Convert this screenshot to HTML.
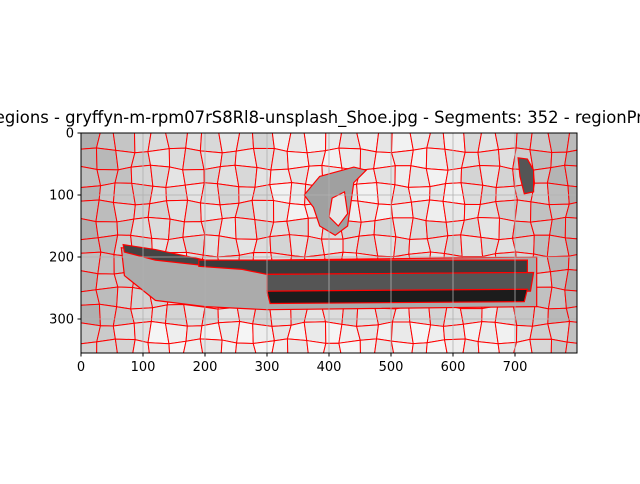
<!DOCTYPE html>
<html><head><meta charset="utf-8"><style>
body{margin:0;background:#fff;width:640px;height:480px;overflow:hidden;font-family:"DejaVu Sans","Liberation Sans",sans-serif}
</style></head><body>
<svg id="fig" width="640" height="480" xmlns="http://www.w3.org/2000/svg" font-family="DejaVu Sans, Liberation Sans, sans-serif">
<text x="330" y="123" text-anchor="middle" font-size="16.4" fill="#000">regions - gryffyn-m-rpm07rS8Rl8-unsplash_Shoe.jpg - Segments: 352 - regionProps</text>
<clipPath id="clip"><rect x="81" y="133" width="496" height="220"/></clipPath>
<g id="img" clip-path="url(#clip)"></g>
<g id="axes"></g>
</svg>
<script>
const xTicks=[0,100,200,300,400,500,600,700];
const yTicks=[0,100,200,300];
const imgW=800, imgH=355;
const X0=81,Y0=133,S=0.62;
const sx=v=>X0+v*S, sy=v=>Y0+v*S;
const NS='http://www.w3.org/2000/svg';
const img=document.getElementById('img'), axes=document.getElementById('axes');
function el(t,a,p){const e=document.createElementNS(NS,t);for(const k in a)e.setAttribute(k,a[k]);p.appendChild(e);return e;}
el('rect',{x:X0,y:Y0,width:496,height:220,fill:'#d0d0d0'},img);
const cw=28,ch=28;
const nc=Math.ceil(imgW/cw)+1, nr=Math.ceil(imgH/ch)+1;
const V=[];
for(let r=0;r<=nr;r++){V.push([]);for(let c=0;c<=nc;c++){
  const jx=(c===0?0:Math.sin(r*1.7+c*2.3)*4), jy=(r===0?0:Math.cos(r*2.1+c*1.3)*4);
  V[r].push([c*cw+jx,r*ch+jy]);}}
for(let r=0;r<nr;r++){for(let c=0;c<nc;c++){
  const cx=c*cw+cw/2, cy=r*ch+ch/2;
  const edge=Math.min(1,Math.min(cx,imgW-cx)/130);
  let g=178+edge*42+(cy<140&&cx>300&&cx<620?14:0)+(cy>300?18:0)+(((r*7+c*3)%5)-2)*4;
  g=Math.max(150,Math.min(245,Math.round(g)));
  const pts=[V[r][c],V[r][c+1],V[r+1][c+1],V[r+1][c]].map(q=>sx(q[0])+','+sy(q[1])).join(' ');
  const e=el('polygon',{points:pts,fill:`rgb(${g},${g},${g})`,stroke:'#ff0000','stroke-width':1},img);
  
  
}}
const shapes=[
 {n:'shoe-midsole',f:'#ababab',p:[[65,185],[200,205],[300,205],[735,200],[735,280],[300,285],[200,280],[120,270],[70,230]]},
 {n:'toe-streak',f:'#444',p:[[68,180],[120,188],[200,205],[210,215],[120,205],[70,192]]},
 {n:'upper-dark-strip',f:'#3a3a3a',p:[[190,205],[720,205],[720,225],[300,228],[260,220],[190,215]]},
 {n:'mid-gray-band',f:'#555',p:[[300,228],[730,225],[725,255],[300,258]]},
 {n:'black-strip',f:'#1c1c1c',p:[[300,255],[720,252],[715,272],[305,275]]},
 {n:'heel-loop',f:'#555',p:[[705,40],[720,42],[730,60],[730,95],[715,98],[708,70]]},
 {n:'logo-loop',f:'#a0a0a0',p:[[385,70],[440,55],[460,60],[440,80],[430,150],[410,165],[385,150],[375,120],[360,100]]},
 {n:'logo-inner',f:'#e8e8e8',p:[[405,105],[425,95],[430,130],[415,150],[400,135]]}
];
shapes.forEach(s=>{
  const e=el('polygon',{points:s.p.map(q=>sx(q[0])+','+sy(q[1])).join(' '),fill:s.f,stroke:'#ff0000','stroke-width':1.2},img);
  
  
});
xTicks.forEach(t=>{const e=el('line',{x1:sx(t),x2:sx(t),y1:Y0,y2:Y0+220,stroke:'#b0b0b0','stroke-width':0.8},img);
 });
yTicks.forEach(t=>{const e=el('line',{x1:X0,x2:X0+496,y1:sy(t),y2:sy(t),stroke:'#b0b0b0','stroke-width':0.8},img);
 });
const fr=el('rect',{x:X0,y:Y0,width:496,height:220,fill:'none',stroke:'#000','stroke-width':1},axes);

xTicks.forEach(t=>{
 el('line',{x1:sx(t),x2:sx(t),y1:Y0+220,y2:Y0+223.5,stroke:'#000'},axes);
 const tx=el('text',{x:sx(t),y:Y0+238,'text-anchor':'middle','font-size':13},axes);tx.textContent=t;
 
});
yTicks.forEach(t=>{
 el('line',{x1:X0-3.5,x2:X0,y1:sy(t),y2:sy(t),stroke:'#000'},axes);
 const tx=el('text',{x:X0-7,y:sy(t)+4.5,'text-anchor':'end','font-size':13},axes);tx.textContent=t;
 
});
</script>
</body></html>
